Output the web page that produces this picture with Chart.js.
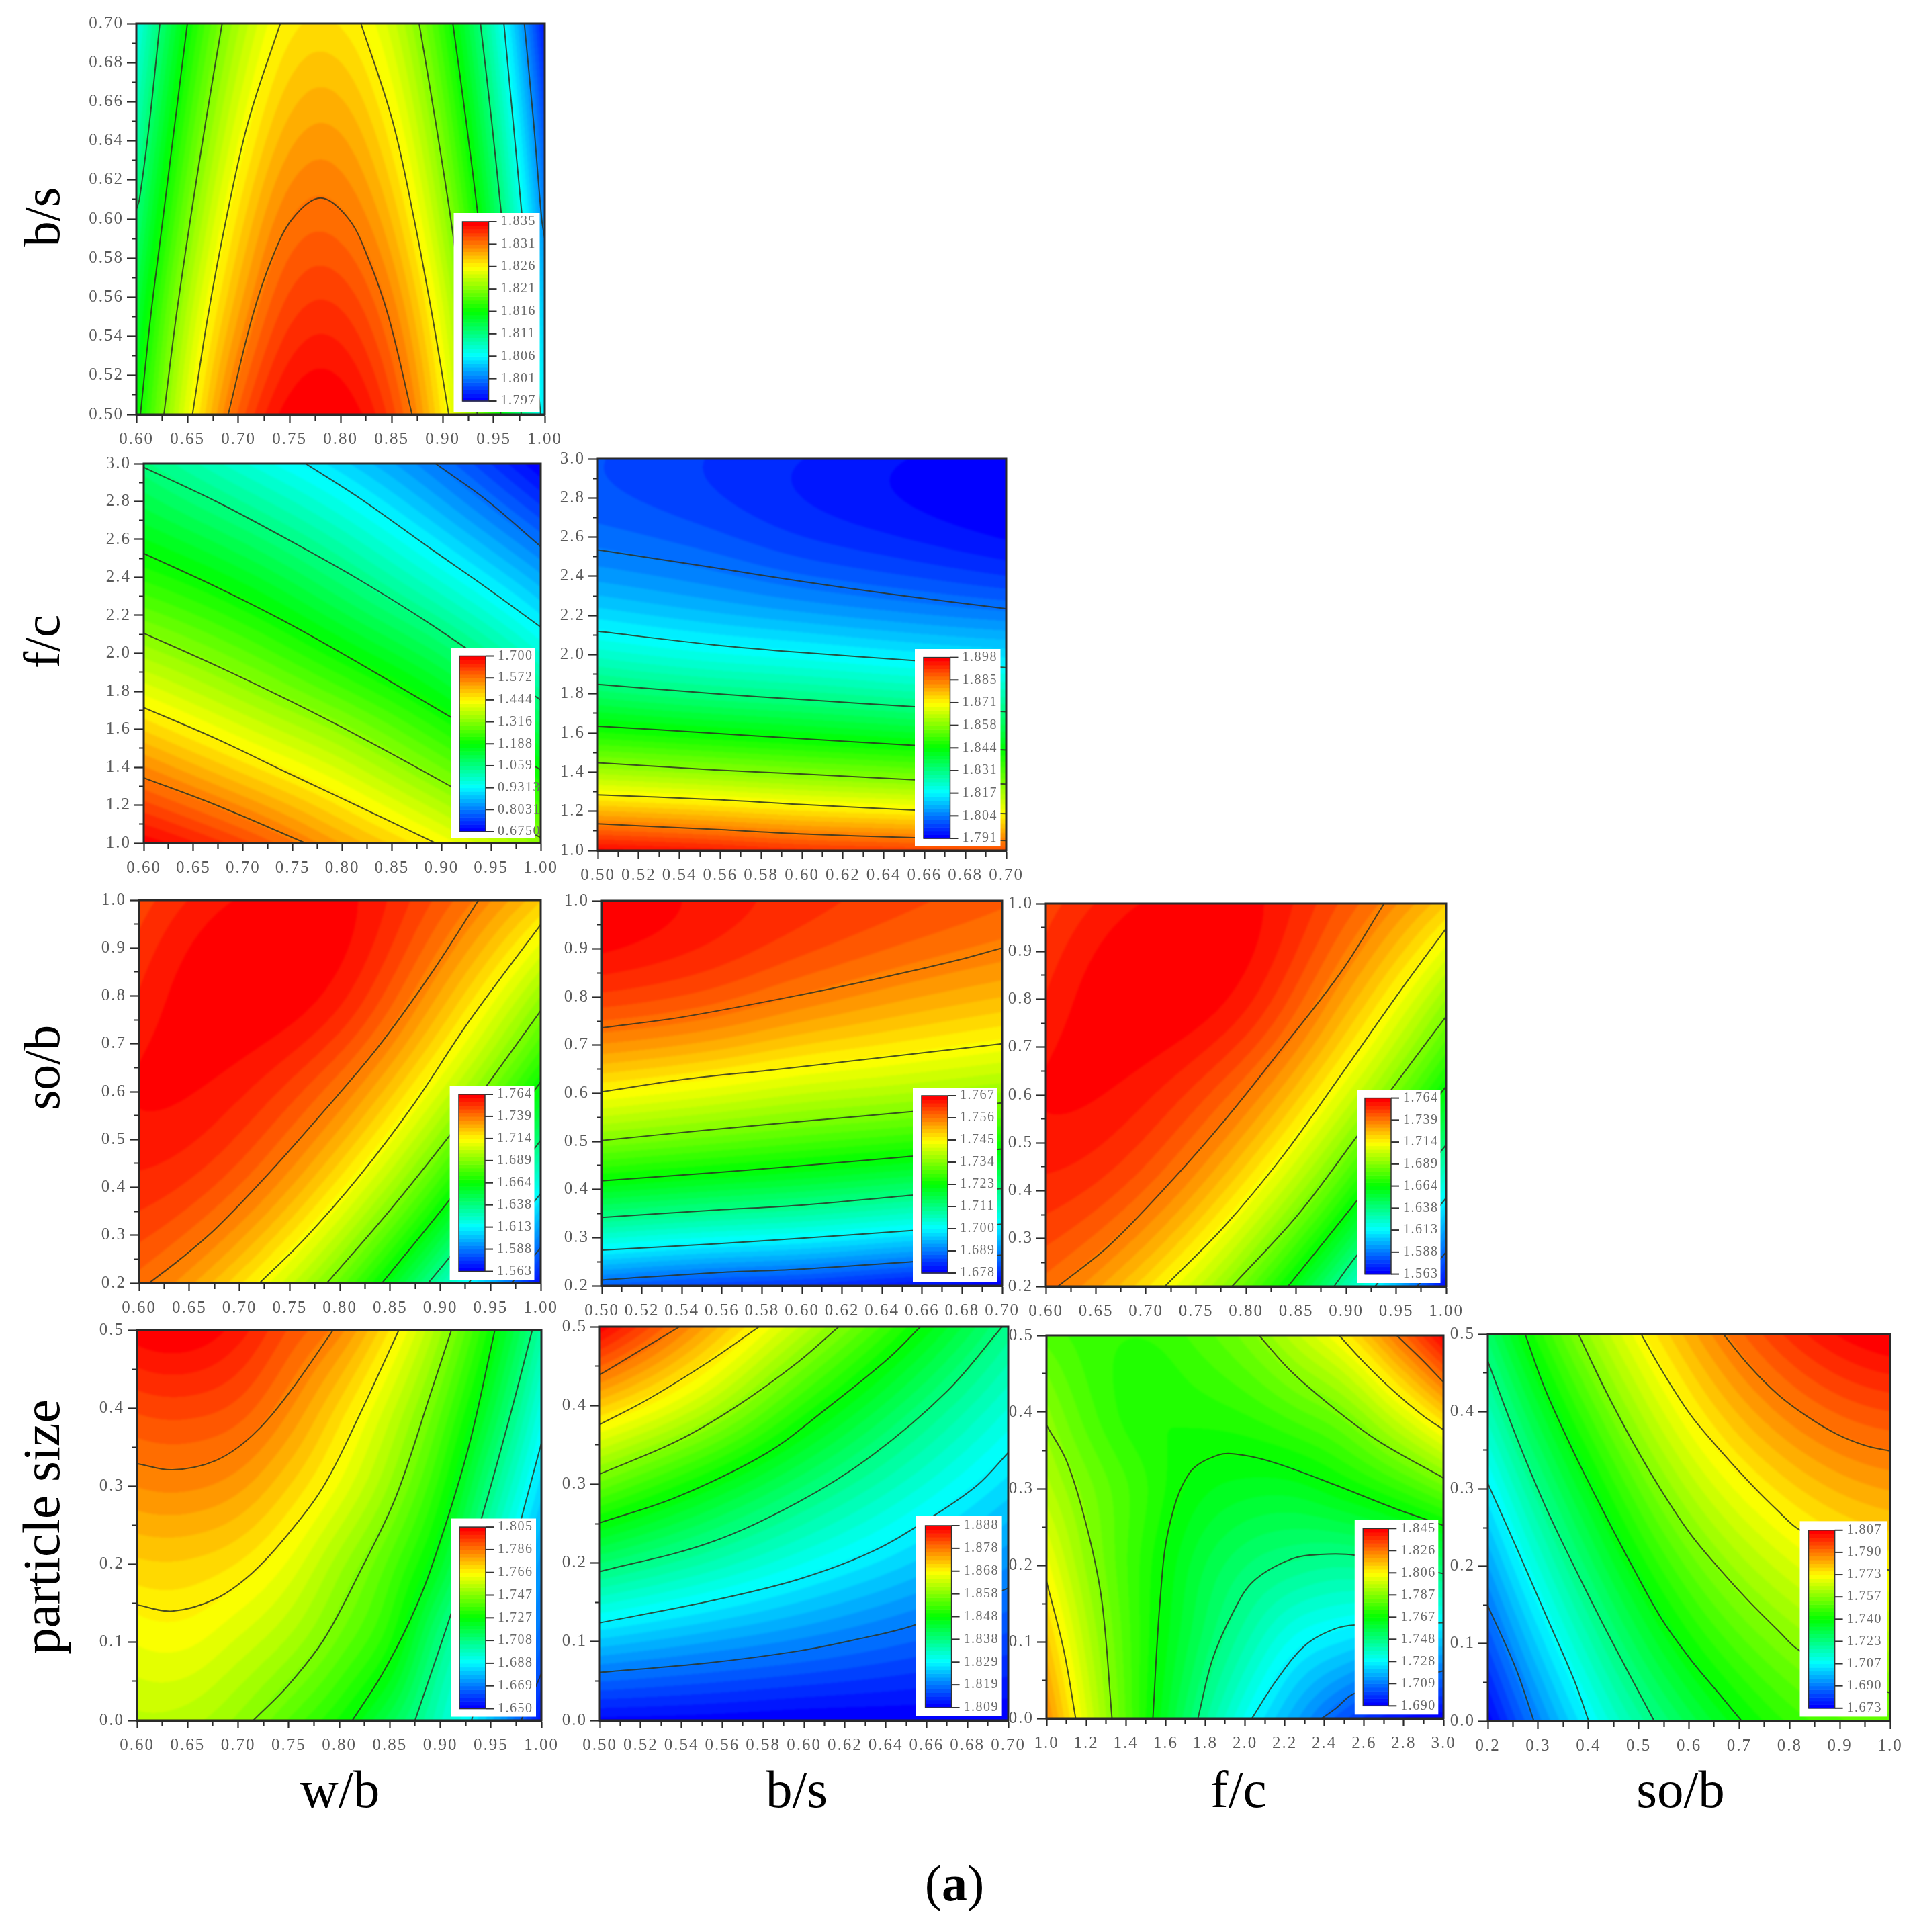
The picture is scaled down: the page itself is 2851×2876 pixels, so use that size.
<!DOCTYPE html>
<html><head><meta charset="utf-8">
<style>
html,body{margin:0;padding:0;background:#fff;width:2851px;height:2876px;overflow:hidden}
#stage{position:relative;width:2851px;height:2876px;background:#fff}
canvas{position:absolute;filter:blur(.6px)}
.t{position:absolute;font-family:"Liberation Serif",serif;line-height:1;color:#000;white-space:nowrap}
</style>
<script src="https://cdn.jsdelivr.net/npm/chart.js@4/dist/chart.umd.js"></script>
</head><body><div id="stage"></div>
<script>
/* ---------- tick labels ---------- */
const ticksWb=['0.60','0.65','0.70','0.75','0.80','0.85','0.90','0.95','1.00'];
const ticksBsX=['0.50','0.52','0.54','0.56','0.58','0.60','0.62','0.64','0.66','0.68','0.70'];
const ticksBsY=['0.50','0.52','0.54','0.56','0.58','0.60','0.62','0.64','0.66','0.68','0.70'];
const ticksFc=['1.0','1.2','1.4','1.6','1.8','2.0','2.2','2.4','2.6','2.8','3.0'];
const ticksSo=['0.2','0.3','0.4','0.5','0.6','0.7','0.8','0.9','1.0'];
const ticksPs=['0.0','0.1','0.2','0.3','0.4','0.5'];

/* ---------- colour-bar labels, top to bottom ---------- */
const barWbBs=['1.835','1.831','1.826','1.821','1.816','1.811','1.806','1.801','1.797'];
const barWbFc=['1.700','1.572','1.444','1.316','1.188','1.059','0.9313','0.8031','0.6750'];
const barBsFc=['1.898','1.885','1.871','1.858','1.844','1.831','1.817','1.804','1.791'];
const barWbSo=['1.764','1.739','1.714','1.689','1.664','1.638','1.613','1.588','1.563'];
const barBsSo=['1.767','1.756','1.745','1.734','1.723','1.711','1.700','1.689','1.678'];
const barFcSo=['1.764','1.739','1.714','1.689','1.664','1.638','1.613','1.588','1.563'];
const barWbPs=['1.805','1.786','1.766','1.747','1.727','1.708','1.688','1.669','1.650'];
const barBsPs=['1.888','1.878','1.868','1.858','1.848','1.838','1.829','1.819','1.809'];
const barFcPs=['1.845','1.826','1.806','1.787','1.767','1.748','1.728','1.709','1.690'];
const barSoPs=['1.807','1.790','1.773','1.757','1.740','1.723','1.707','1.690','1.673'];

/* ---------- response values (rows top to bottom, columns left to right,
   nodes evenly spread over each axis) ---------- */
const zWbBs=[
[1.8075,1.8160,1.8222,1.8259,1.8262,1.8235,1.8177,1.8090,1.7980],
[1.8096,1.8181,1.8243,1.8280,1.8284,1.8256,1.8198,1.8111,1.8001],
[1.8117,1.8203,1.8265,1.8302,1.8305,1.8278,1.8219,1.8132,1.8022],
[1.8140,1.8226,1.8287,1.8324,1.8328,1.8301,1.8242,1.8155,1.8045],
[1.8158,1.8245,1.8312,1.8347,1.8350,1.8322,1.8260,1.8173,1.8060]];
const zWbFc=[
[1.0658,0.9774,0.8954,0.7967,0.6750],
[1.1952,1.1273,1.0389,0.9351,0.8223],
[1.3502,1.2785,1.1913,1.0978,0.9735],
[1.5181,1.4399,1.3605,1.2593,1.1478],
[1.6936,1.6218,1.5270,1.4373,1.3259]];
const zBsFc=[
[1.8001,1.7978,1.7955,1.7933,1.7913],
[1.8054,1.8030,1.7998,1.7974,1.7950],
[1.8236,1.8207,1.8187,1.8165,1.8148],
[1.8541,1.8519,1.8497,1.8476,1.8454],
[1.8967,1.8947,1.8920,1.8906,1.8886]];
const zWbSo=[
[1.7489,1.7602,1.7615,1.7457,1.7225],
[1.7560,1.7640,1.7570,1.7296,1.6929],
[1.7602,1.7565,1.7389,1.7055,1.6610],
[1.7540,1.7426,1.7150,1.6728,1.6158],
[1.7409,1.7188,1.6826,1.6308,1.5655]];
const zBsSo=[
[1.7676,1.7646,1.7623,1.7602,1.7581],
[1.7609,1.7589,1.7555,1.7526,1.7503],
[1.7444,1.7420,1.7393,1.7374,1.7353],
[1.7198,1.7176,1.7157,1.7133,1.7110],
[1.6869,1.6845,1.6830,1.6804,1.6780]];
const zFcSo=[
[1.7489,1.7602,1.7615,1.7457,1.7225],
[1.7560,1.7640,1.7570,1.7296,1.6929],
[1.7602,1.7565,1.7389,1.7055,1.6610],
[1.7540,1.7426,1.7150,1.6728,1.6158],
[1.7409,1.7188,1.6826,1.6308,1.5655]];
const zWbPs=[
[1.8040,1.8050,1.8002,1.7918,1.7837,1.7692,1.7509,1.7291,1.7035],
[1.7928,1.7936,1.7909,1.7829,1.7717,1.7581,1.7413,1.7194,1.6934],
[1.7825,1.7831,1.7802,1.7728,1.7626,1.7496,1.7323,1.7081,1.6839],
[1.7719,1.7721,1.7692,1.7624,1.7515,1.7393,1.7221,1.6973,1.6742],
[1.7633,1.7637,1.7591,1.7525,1.7428,1.7308,1.7081,1.6888,1.6665],
[1.7556,1.7546,1.7492,1.7401,1.7300,1.7159,1.6990,1.6800,1.6539]];
const zBsPs=[
[1.8876,1.8752,1.8627,1.8503,1.8381],
[1.8720,1.8633,1.8515,1.8413,1.8322],
[1.8563,1.8485,1.8405,1.8333,1.8265],
[1.8403,1.8355,1.8304,1.8257,1.8208],
[1.8249,1.8224,1.8200,1.8174,1.8149],
[1.8100,1.8097,1.8090,1.8090,1.8090]];
const zFcPs=[
[1.7791,1.7753,1.7743,1.7782,1.7849,1.7954,1.8076,1.8247,1.8440],
[1.7878,1.7772,1.7714,1.7720,1.7743,1.7793,1.7859,1.7989,1.8134],
[1.7948,1.7832,1.7743,1.7660,1.7627,1.7628,1.7675,1.7739,1.7824],
[1.8043,1.7863,1.7723,1.7598,1.7516,1.7472,1.7454,1.7481,1.7516],
[1.8140,1.7909,1.7718,1.7559,1.7423,1.7307,1.7253,1.7220,1.7210],
[1.8227,1.7954,1.7708,1.7493,1.7313,1.7169,1.7036,1.6939,1.6910]];
const zSoPs=[
[1.7269,1.7594,1.7832,1.7995,1.8078],
[1.7164,1.7485,1.7735,1.7891,1.7958],
[1.7057,1.7375,1.7628,1.7780,1.7849],
[1.6951,1.7271,1.7519,1.7671,1.7742],
[1.6846,1.7167,1.7412,1.7564,1.7635],
[1.6740,1.7065,1.7300,1.7462,1.7529]];

/* ---------- contour lines, as [x,y] in axis units ---------- */
const linesWbBs=[
[[0.623,0.70],[0.613,0.65],[0.603,0.61],[0.60,0.605]],
[[0.650,0.70],[0.638,0.65],[0.626,0.60],[0.614,0.55],[0.604,0.50]],
[[0.684,0.70],[0.668,0.65],[0.653,0.60],[0.639,0.55],[0.627,0.50]],
[[0.741,0.70],[0.7097,0.65],[0.688,0.60],[0.670,0.55],[0.655,0.50]],
[[0.690,0.50],[0.7136,0.55],[0.733,0.58],[0.7527,0.60],[0.7804,0.6107],[0.808,0.60],[0.827,0.58],[0.847,0.55],[0.870,0.50]],
[[0.820,0.70],[0.851,0.65],[0.872,0.60],[0.890,0.55],[0.906,0.50]],
[[0.877,0.70],[0.893,0.65],[0.908,0.60],[0.921,0.55],[0.934,0.50]],
[[0.910,0.70],[0.923,0.65],[0.935,0.60],[0.946,0.55],[0.957,0.50]],
[[0.937,0.70],[0.948,0.65],[0.958,0.60],[0.968,0.55],[0.977,0.50]],
[[0.960,0.70],[0.969,0.65],[0.978,0.60],[0.987,0.55],[0.996,0.50]],
[[0.980,0.70],[0.989,0.65],[0.997,0.60],[1.0,0.59]]];
const linesWbFc=[
[[0.894,3],[0.945,2.809],[1.0,2.563]],
[[0.763,3],[0.818,2.816],[0.890,2.548],[0.945,2.347],[1.0,2.138]],
[[0.60,2.98],[0.673,2.80],[0.745,2.60],[0.818,2.385],[0.890,2.15],[1.0,1.754]],
[[0.60,2.526],[0.673,2.35],[0.745,2.16],[0.818,1.945],[0.909,1.665],[1.0,1.386]],
[[0.60,2.106],[0.673,1.935],[0.745,1.755],[0.818,1.56],[0.909,1.30],[1.0,1.028]],
[[0.60,1.714],[0.673,1.55],[0.745,1.37],[0.818,1.19],[0.894,1.0]],
[[0.60,1.344],[0.673,1.2],[0.763,1.0]]];
const linesBsFc=[
[[0.5,2.535],[0.557,2.444],[0.601,2.372],[0.645,2.307],[0.7,2.235]],
[[0.5,2.119],[0.557,2.05],[0.601,2.01],[0.655,1.970],[0.7,1.934]],
[[0.5,1.848],[0.557,1.801],[0.601,1.770],[0.655,1.734],[0.7,1.708]],
[[0.5,1.635],[0.557,1.599],[0.601,1.570],[0.655,1.537],[0.7,1.513]],
[[0.5,1.448],[0.557,1.412],[0.601,1.390],[0.655,1.361],[0.7,1.339]],
[[0.5,1.284],[0.557,1.260],[0.601,1.234],[0.655,1.206],[0.7,1.188]],
[[0.5,1.136],[0.557,1.108],[0.601,1.084],[0.655,1.065],[0.7,1.051]]];
const linesWbSo=[
[[0.610,0.2],[0.641,0.25],[0.677,0.315],[0.730,0.431],[0.784,0.559],[0.838,0.693],[0.892,0.850],[0.938,1.0]],
[[0.720,0.2],[0.766,0.295],[0.820,0.425],[0.874,0.575],[0.928,0.745],[1.0,0.949]],
[[0.787,0.2],[0.849,0.350],[0.910,0.510],[0.945,0.609],[1.0,0.769]],
[[0.842,0.2],[0.910,0.376],[1.0,0.620]],
[[0.888,0.2],[0.910,0.256],[1.0,0.498]],
[[0.928,0.2],[1.0,0.387]],
[[0.971,0.2],[1.0,0.274]]];
const linesBsSo=[
[[0.5,0.736],[0.541,0.759],[0.601,0.806],[0.646,0.846],[0.676,0.875],[0.7,0.902]],
[[0.5,0.603],[0.541,0.629],[0.586,0.649],[0.631,0.670],[0.7,0.703]],
[[0.5,0.502],[0.556,0.525],[0.601,0.542],[0.655,0.562],[0.7,0.580]],
[[0.5,0.418],[0.556,0.435],[0.601,0.450],[0.655,0.469],[0.7,0.484]],
[[0.5,0.342],[0.556,0.357],[0.601,0.368],[0.655,0.388],[0.7,0.402]],
[[0.5,0.274],[0.556,0.287],[0.601,0.299],[0.655,0.315],[0.7,0.328]],
[[0.5,0.212],[0.556,0.227],[0.601,0.235],[0.655,0.250],[0.7,0.264]]];
const linesFcSo=[
[[0.612,0.2],[0.663,0.285],[0.721,0.41],[0.779,0.548],[0.837,0.700],[0.895,0.857],[0.938,1.0]],
[[0.719,0.2],[0.779,0.327],[0.837,0.473],[0.895,0.642],[0.954,0.817],[1.0,0.948]],
[[0.786,0.2],[0.852,0.350],[0.910,0.511],[0.954,0.636],[1.0,0.764]],
[[0.842,0.2],[0.910,0.377],[1.0,0.618]],
[[0.888,0.2],[0.910,0.263],[1.0,0.496]],
[[0.929,0.2],[1.0,0.385]],
[[0.971,0.2],[1.0,0.272]]];
const linesWbPs=[
[[0.60,0.329],[0.635,0.321],[0.678,0.333],[0.714,0.365],[0.749,0.417],[0.794,0.5]],
[[0.60,0.148],[0.635,0.140],[0.678,0.156],[0.714,0.189],[0.749,0.238],[0.785,0.301],[0.820,0.391],[0.859,0.5]],
[[0.715,0],[0.749,0.044],[0.785,0.104],[0.820,0.189],[0.856,0.286],[0.891,0.421],[0.911,0.5]],
[[0.813,0],[0.842,0.058],[0.870,0.128],[0.891,0.195],[0.927,0.345],[0.954,0.5]],
[[0.875,0],[0.909,0.130],[0.941,0.260],[0.970,0.395],[0.991,0.5]],
[[0.931,0],[0.968,0.2],[0.980,0.258],[1.0,0.355]],
[[0.980,0],[1.0,0.06]]];
const linesBsPs=[
[[0.5,0.439],[0.516,0.464],[0.539,0.5]],
[[0.5,0.376],[0.523,0.407],[0.553,0.455],[0.578,0.5]],
[[0.5,0.313],[0.538,0.355],[0.567,0.399],[0.597,0.455],[0.617,0.5]],
[[0.5,0.251],[0.538,0.284],[0.582,0.340],[0.611,0.396],[0.641,0.459],[0.657,0.5]],
[[0.5,0.189],[0.553,0.225],[0.597,0.277],[0.633,0.336],[0.670,0.418],[0.697,0.5]],
[[0.5,0.124],[0.553,0.151],[0.597,0.179],[0.633,0.214],[0.663,0.259],[0.685,0.299],[0.7,0.340]],
[[0.5,0.061],[0.553,0.073],[0.597,0.088],[0.626,0.103],[0.654,0.121],[0.7,0.168]]];
const linesFcPs=[
[[2.765,0.5],[2.893,0.468],[3.0,0.439]],
[[2.475,0.5],[2.599,0.465],[2.746,0.428],[2.893,0.396],[3.0,0.377]],
[[2.071,0.5],[2.233,0.453],[2.453,0.404],[2.673,0.362],[3.0,0.314]],
[[1.0,0.179],[1.088,0.088],[1.147,0]],
[[1.0,0.383],[1.103,0.335],[1.205,0.248],[1.279,0.153],[1.330,0]],
[[1.536,0],[1.572,0.153],[1.616,0.248],[1.719,0.320],[1.866,0.344],[1.983,0.344],[2.159,0.333],[2.453,0.305],[2.746,0.275],[3.0,0.252]],
[[1.763,0],[1.836,0.077],[1.939,0.138],[2.042,0.179],[2.233,0.208],[2.379,0.214],[2.555,0.213],[3.0,0.189]],
[[2.035,0],[2.159,0.050],[2.306,0.096],[2.453,0.117],[2.555,0.122],[3.0,0.125]],
[[2.387,0],[2.453,0.012],[2.555,0.033],[3.0,0.062]]];
const linesSoPs=[
[[0.6684,0.5],[0.7194,0.4594],[0.7774,0.4217],[0.8354,0.3935],[0.8933,0.371],[0.9513,0.3559],[1.0,0.3491]],
[[0.5049,0.5],[0.5455,0.4537],[0.6035,0.3954],[0.6614,0.3503],[0.7194,0.3089],[0.7774,0.2713],[0.8209,0.2468],[1.0,0.1941]],
[[0.3803,0.5],[0.4296,0.433],[0.4875,0.3616],[0.5455,0.2976],[0.6035,0.2412],[0.6614,0.196],[0.7194,0.1546],[0.7774,0.117],[0.8209,0.0907],[1.0,0.0361]],
[[0.2742,0.5],[0.3136,0.4293],[0.3716,0.3465],[0.4296,0.2713],[0.4875,0.1998],[0.5455,0.1321],[0.6035,0.0794],[0.6614,0.0342],[0.7049,0]],
[[0.2,0.465],[0.2557,0.3691],[0.3136,0.2788],[0.3716,0.1998],[0.4296,0.1245],[0.4875,0.053],[0.531,0]],
[[0.2,0.307],[0.2557,0.2261],[0.3136,0.1396],[0.3716,0.053],[0.4006,0]],
[[0.2,0.149],[0.2557,0.0681],[0.2916,0]]];

/* ---------- panel wiring and layout (page pixels) ---------- */
const panels=[
{xt:ticksWb,yt:ticksBsY,z:zWbBs,lines:linesWbBs,bar:barWbBs,area:[202.5,35,810.5,617],box:[675,317,803,614],cb:[688,330,727,597]},
{xt:ticksWb,yt:ticksFc,z:zWbFc,lines:linesWbFc,bar:barWbFc,area:[214,690,804.5,1255],box:[672,964,796.5,1248],cb:[684,976.5,723,1238]},
{xt:ticksBsX,yt:ticksFc,z:zBsFc,lines:linesBsFc,bar:barBsFc,area:[890,683,1498,1266],box:[1362,966,1489.5,1260],cb:[1375,978.6,1414.5,1248]},
{xt:ticksWb,yt:ticksSo,z:zWbSo,lines:linesWbSo,bar:barWbSo,area:[207,1340,804.5,1910],box:[669.6,1617,795.5,1905],cb:[683,1629,722,1892.5]},
{xt:ticksBsX,yt:ticksSo,z:zBsSo,lines:linesBsSo,bar:barBsSo,area:[896,1341,1492,1914],box:[1359,1619,1484,1908],cb:[1372,1631,1411,1895]},
{xt:ticksWb,yt:ticksSo,z:zFcSo,lines:linesFcSo,bar:barFcSo,area:[1557,1345,2153,1914.5],box:[2020,1622,2144.5,1910],cb:[2032,1634.6,2071,1896.6]},
{xt:ticksWb,yt:ticksPs,z:zWbPs,lines:linesWbPs,bar:barWbPs,area:[204,1979.5,806,2560.6],box:[671,2260,798,2555],cb:[684,2272.6,723,2543]},
{xt:ticksBsX,yt:ticksPs,z:zBsPs,lines:linesBsPs,bar:barBsPs,area:[893.4,1975,1501,2560.6],box:[1364,2257,1492,2554],cb:[1378,2271,1417,2542]},
{xt:ticksFc,yt:ticksPs,z:zFcPs,lines:linesFcPs,bar:barFcPs,area:[1557.7,1987.7,2148.8,2558],box:[2016.5,2262,2141,2552],cb:[2029,2275,2067,2539]},
{xt:ticksSo,yt:ticksPs,z:zSoPs,lines:linesSoPs,bar:barSoPs,area:[2215,1985.6,2813.5,2562],box:[2679.5,2264,2809.6,2555],cb:[2692.5,2277.4,2731.6,2542.4]}
];
const rowTitles=[['b/s',323,76],['f/c',955,76],['so/b',1589,76],['particle size',2273,79]];
const colTitles=[['w/b',506],['b/s',1186],['f/c',1844],['so/b',2502]];

const PAD={l:76,t:20,r:44,b:56};
const FONT='"Liberation Serif","Times New Roman",serif';
const BANDS_PER_LEVEL=6,LEVELS=8,NB=BANDS_PER_LEVEL*LEVELS;

function rainbow(t){
  if(t<=.25)return[0,255*4*t,255];
  if(t<=.5)return[0,255,255*(1-(t-.25)*4)];
  if(t<=.75)return[255*(t-.5)*4,255,0];
  return[255,255*(1-(t-.75)*4),0];
}
const bandRGB=[];for(let i=0;i<NB;i++)bandRGB.push(rainbow(i/(NB-1)).map(Math.round));
function cr(a,b,c,d,t){return .5*((2*b)+(c-a)*t+(2*a-5*b+4*c-d)*t*t+(3*b-a-3*c+d)*t*t*t);}
function at(arr,i){const n=arr.length;
  if(i<0)return 3*arr[0]-3*arr[1]+arr[2];
  if(i>=n)return 3*arr[n-1]-3*arr[n-2]+arr[n-3];
  return arr[i];}
function sample(arr,u){const n=arr.length;let i=Math.floor(u);if(i>n-2)i=n-2;if(i<0)i=0;const t=u-i;
  return cr(at(arr,i-1),at(arr,i),at(arr,i+1),at(arr,i+2),t);}

const fieldPlugin={id:'field',
 beforeDatasetsDraw(chart){
  const p=chart.config.options.plugins.field.panel,a=chart.chartArea,xs=chart.scales.x,ys=chart.scales.y,ctx=chart.ctx;
  const w=Math.round(a.right-a.left),h=Math.round(a.bottom-a.top);
  if(!chart.$off){
   const vmax=parseFloat(p.bar[0]),vmin=parseFloat(p.bar[p.bar.length-1]);
   const nr=p.z.length,nc=p.z[0].length;
   const x0=xs.min,x1=xs.max,y0=ys.min,y1=ys.max;
   const off=document.createElement('canvas');off.width=w;off.height=h;
   const octx=off.getContext('2d');
   const img=octx.createImageData(w,h),d=img.data;
   const cols=[];for(let c=0;c<nc;c++)cols.push(p.z.map(r=>r[c]));
   const uu=[];for(let px=0;px<w;px++){uu.push((xs.getValueForPixel(a.left+px+.5)-x0)/(x1-x0)*(nc-1));}
   for(let py=0;py<h;py++){
    const v=(y1-ys.getValueForPixel(a.top+py+.5))/(y1-y0)*(nr-1);
    const row=cols.map(col=>sample(col,v));
    for(let px=0;px<w;px++){
     const val=sample(row,uu[px]);
     let b=Math.floor((val-vmin)/(vmax-vmin)*NB);if(b<0)b=0;if(b>NB-1)b=NB-1;
     const c=bandRGB[b],o=(py*w+px)*4;d[o]=c[0];d[o+1]=c[1];d[o+2]=c[2];d[o+3]=255;
    }
   }
   octx.putImageData(img,0,0);
   chart.$off=off;
  }
  ctx.save();
  ctx.beginPath();ctx.rect(a.left,a.top,a.right-a.left,a.bottom-a.top);ctx.clip();
  ctx.drawImage(chart.$off,a.left,a.top,a.right-a.left,a.bottom-a.top);
  ctx.filter='blur(1.6px)';
  ctx.drawImage(chart.$off,a.left,a.top,a.right-a.left,a.bottom-a.top);
  ctx.filter='none';
  ctx.restore();
 },
 afterDatasetsDraw(chart){
  const p=chart.config.options.plugins.field.panel,ctx=chart.ctx,a=chart.chartArea;
  const ox=p.area[0]-PAD.l,oy=p.area[1]-PAD.t;
  ctx.save();
  ctx.strokeStyle='#2a2a2a';ctx.lineWidth=3;
  ctx.strokeRect(a.left,a.top,a.right-a.left,a.bottom-a.top);
  // colour-bar key
  const B=p.box,C=p.cb;
  ctx.fillStyle='#fff';ctx.fillRect(B[0]-ox,B[1]-oy,B[2]-B[0],B[3]-B[1]);
  const H=C[3]-C[1];
  for(let i=0;i<NB;i++){
   const t0=C[3]-oy-H*(i+1)/NB,hh=H/NB;
   const c=bandRGB[i];ctx.fillStyle='rgb('+c+')';
   ctx.fillRect(C[0]-ox,t0,C[2]-C[0],hh+.6);
  }
  ctx.strokeStyle='#333';ctx.lineWidth=1.5;
  ctx.strokeRect(C[0]-ox,C[1]-oy,C[2]-C[0],H);
  ctx.font='20px '+FONT;ctx.textBaseline='middle';ctx.textAlign='left';
  ctx.letterSpacing='1.5px';
  p.bar.forEach((s,i)=>{
   const y=C[1]-oy+H*i/(p.bar.length-1);
   ctx.strokeStyle='#333';ctx.lineWidth=2;
   ctx.beginPath();ctx.moveTo(C[2]-ox,y);ctx.lineTo(C[2]-ox+12,y);ctx.stroke();
   ctx.fillStyle='#6a6a6a';ctx.fillText(s,C[2]-ox+18,y);
  });
  ctx.restore();
 }
};

function axis(labels,isX){
 const vals=labels.map(parseFloat);
 const minorLen=7;
 return {
  type:'linear',min:vals[0],max:vals[vals.length-1],offset:false,
  afterBuildTicks(s){
   const t=[];vals.forEach((v,i)=>{t.push({value:v});if(i<vals.length-1)t.push({value:(v+vals[i+1])/2});});
   s.ticks=t;
  },
  afterFit(s){if(isX)s.height=PAD.b;else s.width=PAD.l;},
  grid:{drawOnChartArea:false,drawTicks:true,tickLength:isX?12:14,tickWidth:2.2,tickColor:'#2a2a2a',
   tickBorderDash:c=>c.index%2?(isX?[minorLen,100]:[0,minorLen,minorLen,100]):[]},
  border:{display:true,color:'#2a2a2a',width:3},
  ticks:{autoSkip:false,maxRotation:0,minRotation:0,padding:isX?10:5,color:'#5a5a5a',
   font:{family:FONT,size:25},
   callback:(v,i)=>i%2?'':labels[i/2]}
 };
}

const stage=document.getElementById('stage');
panels.forEach(p=>{
 const [L,T,R,Bm]=p.area;
 const W=R-L,H=Bm-T;
 const cv=document.createElement('canvas');
 const cw=Math.round(W+PAD.l+PAD.r),ch=Math.round(H+PAD.t+PAD.b);
 cv.width=cw;cv.height=ch;
 cv.style.left=(L-PAD.l)+'px';cv.style.top=(T-PAD.t)+'px';
 cv.style.width=cw+'px';cv.style.height=ch+'px';
 stage.appendChild(cv);
 new Chart(cv,{type:'line',
  data:{datasets:p.lines.map((ln,i)=>({label:'contour '+(i+1),data:ln.map(q=>({x:q[0],y:q[1]})),
    borderColor:'rgba(45,50,35,.85)',borderWidth:2,pointRadius:0,tension:.35,fill:false}))},
  options:{responsive:false,animation:false,devicePixelRatio:1,events:[],
   layout:{padding:{left:0,top:PAD.t,right:PAD.r,bottom:0}},
   scales:{x:axis(p.xt,true),y:axis(p.yt,false)},
   plugins:{legend:{display:false},tooltip:{enabled:false},title:{display:false},field:{panel:p}}},
  plugins:[fieldPlugin,{id:'spacing',beforeDraw(c){c.ctx.letterSpacing='2px';}}]
 });
});

function text(html,css){const d=document.createElement('div');d.className='t';d.innerHTML=html;d.style.cssText=css;stage.appendChild(d);}
rowTitles.forEach(([s,cy,f])=>text(s,`left:${88-.8375*f}px;top:${cy}px;font-size:${f}px;transform-origin:0 0;transform:rotate(-90deg) translateX(-50%)`));
colTitles.forEach(([s,cx])=>text(s,`left:${cx}px;top:2624px;font-size:79px;transform:translateX(-50%)`));
text('(<b>a</b>)','left:1421px;top:2765px;font-size:76px;transform:translateX(-50%)');
</script></body></html>
